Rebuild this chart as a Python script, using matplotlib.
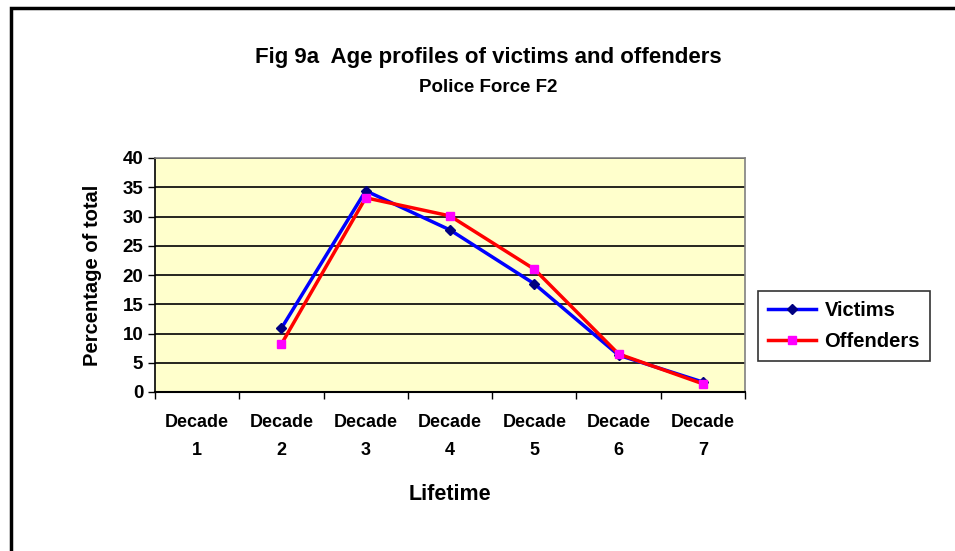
import matplotlib.pyplot as plt
from matplotlib.patches import Rectangle

decades = ['Decade\n1', 'Decade\n2', 'Decade\n3', 'Decade\n4', 'Decade\n5', 'Decade\n6', 'Decade\n7']
victims = [None, 10.9, 34.4, 27.7, 18.5, 6.3, 1.7]
offenders = [None, 8.2, 33.2, 30.1, 21.0, 6.5, 1.4]

plt.rcParams['font.family'] = ['Liberation Sans', 'DejaVu Sans']
plt.rcParams['font.weight'] = 'bold'

fig = plt.figure(figsize=(9.55, 5.51), dpi=100)
ax = fig.add_axes([155 / 955, 1 - 392 / 551, 590 / 955, 234 / 551])

x = list(range(1, len(decades) + 1))
vx = [xi for xi, v in zip(x, victims) if v is not None]
vy = [v for v in victims if v is not None]
ox = [xi for xi, v in zip(x, offenders) if v is not None]
oy = [v for v in offenders if v is not None]

ax.set_facecolor('#FFFFCC')
ax.plot(vx, vy, color='#0000FF', lw=2.5, marker='D', ms=5,
        mfc='#000080', mec='#000080', label='Victims', zorder=3)
ax.plot(ox, oy, color='#FF0000', lw=2.5, marker='s', ms=6,
        mfc='#FF00FF', mec='#FF00FF', label='Offenders', zorder=3)

ax.set_xlim(0.5, len(decades) + 0.5)
ax.set_ylim(0, 40)
ax.set_yticks(range(0, 41, 5))
ax.yaxis.grid(True, color='black', lw=1.2)
ax.set_axisbelow(True)

ax.set_xticks([i + 0.5 for i in range(len(decades) + 1)])
ax.set_xticklabels([])
ax.set_xticks(x, minor=True)
ax.set_xticklabels(decades, minor=True, fontsize=13, fontweight='bold', linespacing=1.85)
ax.tick_params(axis='x', which='minor', length=0, pad=16)
ax.tick_params(axis='x', which='major', direction='out', length=5, width=1)
ax.tick_params(axis='y', direction='out', length=5, width=1, labelsize=13.5)
for lab in ax.get_yticklabels():
    lab.set_fontweight('bold')

for side in ['top', 'right']:
    ax.spines[side].set_color('#808080')
    ax.spines[side].set_linewidth(1.2)
ax.spines['left'].set_linewidth(1.2)
ax.spines['bottom'].set_linewidth(1.5)

ax.set_ylabel('Percentage of total', fontsize=14.5, fontweight='bold', labelpad=15)
ax.set_xlabel('Lifetime', fontsize=15.5, fontweight='bold', labelpad=18)

fig.text(488 / 955, 1 - 58 / 551, 'Fig 9a  Age profiles of victims and offenders',
         ha='center', va='center', fontsize=16, fontweight='bold')
fig.text(488 / 955, 1 - 88 / 551, 'Police Force F2',
         ha='center', va='center', fontsize=13.5, fontweight='bold')

leg = ax.legend(loc='upper left', bbox_to_anchor=(758 / 955, 1 - 291 / 551),
                bbox_transform=fig.transFigure, fontsize=14.5, frameon=True,
                fancybox=False, edgecolor='black', handlelength=2.4,
                handletextpad=0.4, borderpad=0.5, labelspacing=0.6,
                borderaxespad=0)
leg.get_frame().set_linewidth(1.2)
for t in leg.get_texts():
    t.set_fontweight('bold')

border = Rectangle((11 / 955, -0.1), 1.2, 1 - 8 / 551 + 0.1, transform=fig.transFigure,
                   fill=False, edgecolor='black', lw=2.5, clip_on=False)
fig.patches.append(border)

fig.savefig('out.png', dpi=100)
